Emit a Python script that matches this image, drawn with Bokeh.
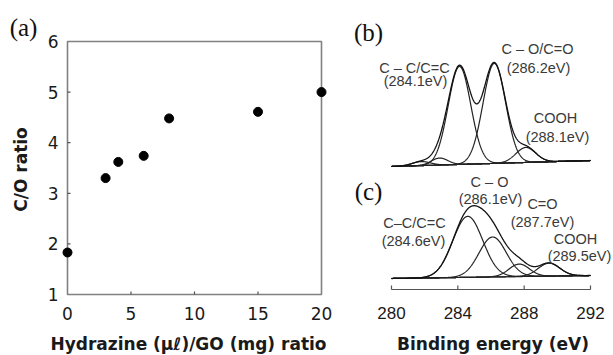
import math
import numpy as np
from bokeh.plotting import figure
from bokeh.models import Range1d, Label
from bokeh.core.properties import value
from bokeh.layouts import row
from bokeh.embed import file_html
from bokeh.resources import INLINE

# ---------------- data ----------------
# (a) C/O ratio vs hydrazine/GO ratio
hydrazine_ratio = [0, 3, 4, 6, 8, 15, 20]
co_ratio = [1.83, 3.30, 3.62, 3.74, 4.48, 4.61, 5.00]
a_xticks = [0, 5, 10, 15, 20]
a_yticks = [1, 2, 3, 4, 5, 6]

# (b) C1s fit components of GO (center eV, height a.u., sigma eV)
b_centers = [281.8, 282.9, 284.1, 286.2, 288.1]
b_heights = [4, 7, 98, 100, 15]
b_sigmas = [0.55, 0.5, 0.68, 0.68, 0.6]
b_bg = [0.0, 6.0]          # background at 280 eV and 292 eV

# (c) C1s fit components of reduced GO
c_centers = [284.6, 286.1, 287.7, 289.5]
c_heights = [61, 40, 12.5, 13]
c_sigmas = [0.9, 0.82, 0.62, 0.65]
c_bg = [0.0, 3.0]

be_ticks = [280, 284, 288, 292]

# ---------------- styles / layout constants ----------------
AX_FONT = "DejaVu Sans"
ARIAL = "Liberation Sans"
SERIF = "Liberation Serif"
GREY = "#808080"
TICKC = "#555555"
TXT = "#3a3a3a"
OFF_B = 123   # vertical offset of spectrum (b)
OFF_C = 11    # vertical offset of spectrum (c)

# ======== panel (a): 340 x 355, box at px x 67..321, y 41..294 ========
x0, x1 = a_xticks[0], a_xticks[-1]
y0, y1 = a_yticks[0], a_yticks[-1]
BL, BR, BT, BB = 67, 321, 41, 294
sx = (BR - BL) / (x1 - x0)
sy = (BB - BT) / (y1 - y0)
pa = figure(width=340, height=355, output_backend="svg", toolbar_location=None,
            x_range=Range1d(x0 - BL / sx, x1 + (340 - BR) / sx),
            y_range=Range1d(y0 - (355 - BB) / sy, y1 + BT / sy),
            x_axis_location=None, y_axis_location=None,
            min_border=0, min_border_left=0, min_border_right=0,
            min_border_top=0, min_border_bottom=0)
pa.grid.visible = False
pa.outline_line_color = None

# box and inward ticks
pa.quad(left=[x0], right=[x1], bottom=[y0], top=[y1], fill_color=None,
        line_color=GREY, line_width=1.6)
inner_x = a_xticks[1:-1]
inner_y = a_yticks[1:-1]
pa.segment(x0=inner_x, y0=[y0] * len(inner_x), x1=inner_x, y1=[y0 + 3 / sy] * len(inner_x),
           line_color=TICKC, line_width=1.2)
pa.segment(x0=[x0] * len(inner_y), y0=inner_y, x1=[x0 + 3 / sx] * len(inner_y), y1=inner_y,
           line_color=TICKC, line_width=1.2)

# tick labels
pa.text(x=a_xticks, y=[y0 - 19 / sy] * len(a_xticks), text=[str(t) for t in a_xticks],
        text_font=value(AX_FONT), text_font_size=value("17px"), text_color="#1a1a1a",
        text_align="center", text_baseline="middle")
pa.text(x=[x0 - 9 / sx] * len(a_yticks), y=a_yticks, text=[str(t) for t in a_yticks],
        text_font=value(AX_FONT), text_font_size=value("17px"), text_color="#1a1a1a",
        text_align="right", text_baseline="middle")

# axis titles and panel tag
pa.add_layout(Label(x=x0 + (188 - BL) / sx, y=y0 - (343 - BB) / sy,
                    text="Hydrazine (μℓ)/GO (mg) ratio", text_font=AX_FONT,
                    text_font_style="bold", text_font_size="17px", text_color="#1a1a1a",
                    text_align="center", text_baseline="middle"))
pa.add_layout(Label(x=x0 - (BL - 20) / sx, y=y0 + (BB - 169) / sy, text="C/O ratio",
                    angle=math.pi / 2, text_font=AX_FONT, text_font_style="bold",
                    text_font_size="17px", text_color="#1a1a1a",
                    text_align="center", text_baseline="middle"))
pa.add_layout(Label(x=x0 - (BL - 23) / sx, y=y1 + (BT - 27) / sy, text="(a)",
                    text_font=SERIF, text_font_size="25px", text_color="#111111",
                    text_align="center", text_baseline="middle"))

pa.scatter(hydrazine_ratio, co_ratio, size=9, color="black")

# ======== panels (b) and (c): 273 x 355, axis 280..292 at px 391..590, y 289 ========
AXL, AXR, AXY = 391 - 340, 590 - 340, 289
PX_EV = (AXR - AXL) / (be_ticks[-1] - be_ticks[0])
pb = figure(width=273, height=355, output_backend="svg", toolbar_location=None,
            x_range=Range1d(be_ticks[0] - AXL / PX_EV, be_ticks[-1] + (273 - AXR) / PX_EV),
            y_range=Range1d(-(355 - AXY), AXY),
            x_axis_location=None, y_axis_location=None,
            min_border=0, min_border_left=0, min_border_right=0,
            min_border_top=0, min_border_bottom=0)
pb.grid.visible = False
pb.outline_line_color = None

# binding-energy axis
pb.segment(x0=[be_ticks[0]], y0=[0], x1=[be_ticks[-1]], y1=[0], line_color=TICKC, line_width=1.2)
pb.segment(x0=be_ticks, y0=[0] * len(be_ticks), x1=be_ticks, y1=[4] * len(be_ticks),
           line_color=TICKC, line_width=1.2)
pb.text(x=be_ticks, y=[-23] * len(be_ticks), text=[str(t) for t in be_ticks],
        text_font=value(ARIAL), text_font_size=value("17px"), text_color="#1a1a1a",
        text_align="center", text_baseline="middle")
pb.add_layout(Label(x=(be_ticks[0] + be_ticks[-1]) / 2 + 2 / PX_EV, y=-54,
                    text="Binding energy (eV)", text_font=AX_FONT, text_font_style="bold",
                    text_font_size="17px", text_color="#1a1a1a",
                    text_align="center", text_baseline="middle"))

E = np.linspace(be_ticks[0], be_ticks[-1], 600)

def draw_spectrum(centers, heights, sigmas, bg, offset):
    base = offset + bg[0] + (bg[1] - bg[0]) * (E - E[0]) / (E[-1] - E[0])
    total = base.copy()
    for c, h, s in zip(centers, heights, sigmas):
        comp = h * np.exp(-(E - c) ** 2 / (2 * s ** 2))
        total = total + comp
        pb.line(E, base + comp, line_color="#222222", line_width=1.2)
    pb.line(E, base, line_color="#222222", line_width=1.2)
    pb.line(E, total, line_color="#111111", line_width=1.3)

draw_spectrum(b_centers, b_heights, b_sigmas, b_bg, OFF_B)
draw_spectrum(c_centers, c_heights, c_sigmas, c_bg, OFF_C)

def b_px(xp, yp):
    return be_ticks[0] + (xp - 391) / PX_EV, AXY - yp

def add_text(xp, yp, text, size="14.5px", font=ARIAL, color=TXT):
    x, y = b_px(xp, yp)
    pb.add_layout(Label(x=x, y=y, text=text, text_font=font, text_font_size=size,
                        text_align="center", text_baseline="middle", text_color=color))

add_text(368, 32, "(b)", size="25px", font=SERIF, color="#111111")
add_text(368, 191, "(c)", size="25px", font=SERIF, color="#111111")

# (b) annotations
add_text(414, 67, "C – C/C=C")
add_text(415, 80, "(284.1eV)")
add_text(537, 48, "C – O/C=O")
add_text(538, 67, "(286.2eV)")
add_text(555, 117, "COOH")
add_text(557, 136, "(288.1eV)")

# (c) annotations
add_text(489, 181, "C – O")
add_text(490, 198, "(286.1eV)")
add_text(542, 203, "C=O")
add_text(542, 221, "(287.7eV)")
add_text(414, 222, "C–C/C=C")
add_text(413, 240, "(284.6eV)")
add_text(575, 238, "COOH")
add_text(579, 255, "(289.5eV)")

layout = row(pa, pb)
open("out.html", "w").write(file_html(layout, INLINE))
